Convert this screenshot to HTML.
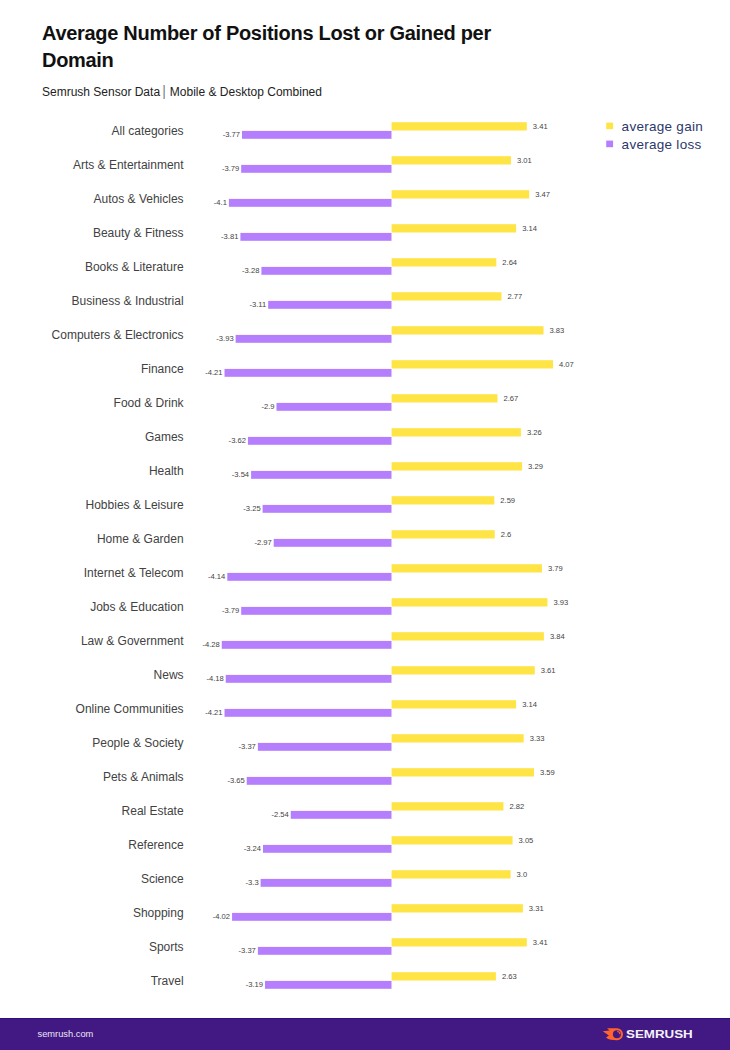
<!DOCTYPE html>
<html><head><meta charset="utf-8">
<style>
html,body{margin:0;padding:0;background:#fff;}
body{width:730px;height:1050px;position:relative;overflow:hidden;font-family:"Liberation Sans",sans-serif;}
.t{position:absolute;left:42px;top:19.5px;font-weight:bold;font-size:20px;letter-spacing:-0.3px;line-height:27.8px;color:#111;margin:0;width:520px;}
.sub{position:absolute;left:42px;top:83.8px;font-size:12px;line-height:16px;color:#222;white-space:nowrap;}
svg{position:absolute;left:0;top:0;}
.lab{font-family:"Liberation Sans",sans-serif;font-size:12px;fill:#424242;text-anchor:end;}
.val{font-family:"Liberation Sans",sans-serif;font-size:7.6px;fill:#444;}
.leg{font-family:"Liberation Sans",sans-serif;font-size:13.5px;letter-spacing:0.28px;fill:#2c386c;}
.foot{position:absolute;left:0;top:1017.6px;width:730px;height:32.4px;background:#421983;box-shadow:inset 0 1px 0 #2d0e7e;}
.furl{position:absolute;left:37.5px;top:1028.1px;font-size:9.3px;line-height:12px;color:#ebe6f7;}
.brand{position:absolute;left:625.8px;top:1027.2px;font-size:10.6px;line-height:14px;font-weight:bold;color:#f4f2fa;transform-origin:0 0;transform:scaleX(1.26);}
</style></head><body>
<div class="t">Average Number of Positions Lost or Gained per<br>Domain</div>
<div class="sub">Semrush Sensor Data <span style="display:inline-block;color:#6a6a6a;transform:translate(-0.8px,-0.8px) scaleY(1.18);">|</span> Mobile &amp; Desktop Combined</div>
<svg width="730" height="1050" viewBox="0 0 730 1050">
<text x="183.6" y="135.20" class="lab">All categories</text>
<rect x="391.6" y="122.20" width="135.24" height="8.3" fill="#FFE446"/>
<rect x="241.98" y="130.90" width="149.52" height="7.9" fill="#B57EFD"/>
<text x="532.84" y="126.35" class="val" dominant-baseline="central">3.41</text>
<text x="239.98" y="134.85" class="val" text-anchor="end" dominant-baseline="central">-3.77</text>
<text x="183.6" y="169.20" class="lab">Arts &amp; Entertainment</text>
<rect x="391.6" y="156.20" width="119.38" height="8.3" fill="#FFE446"/>
<rect x="241.19" y="164.90" width="150.31" height="7.9" fill="#B57EFD"/>
<text x="516.98" y="160.35" class="val" dominant-baseline="central">3.01</text>
<text x="239.19" y="168.85" class="val" text-anchor="end" dominant-baseline="central">-3.79</text>
<text x="183.6" y="203.20" class="lab">Autos &amp; Vehicles</text>
<rect x="391.6" y="190.20" width="137.62" height="8.3" fill="#FFE446"/>
<rect x="228.89" y="198.90" width="162.61" height="7.9" fill="#B57EFD"/>
<text x="535.22" y="194.35" class="val" dominant-baseline="central">3.47</text>
<text x="226.89" y="202.85" class="val" text-anchor="end" dominant-baseline="central">-4.1</text>
<text x="183.6" y="237.20" class="lab">Beauty &amp; Fitness</text>
<rect x="391.6" y="224.20" width="124.53" height="8.3" fill="#FFE446"/>
<rect x="240.40" y="232.90" width="151.10" height="7.9" fill="#B57EFD"/>
<text x="522.13" y="228.35" class="val" dominant-baseline="central">3.14</text>
<text x="238.40" y="236.85" class="val" text-anchor="end" dominant-baseline="central">-3.81</text>
<text x="183.6" y="271.20" class="lab">Books &amp; Literature</text>
<rect x="391.6" y="258.20" width="104.70" height="8.3" fill="#FFE446"/>
<rect x="261.42" y="266.90" width="130.08" height="7.9" fill="#B57EFD"/>
<text x="502.30" y="262.35" class="val" dominant-baseline="central">2.64</text>
<text x="259.42" y="270.85" class="val" text-anchor="end" dominant-baseline="central">-3.28</text>
<text x="183.6" y="305.20" class="lab">Business &amp; Industrial</text>
<rect x="391.6" y="292.20" width="109.86" height="8.3" fill="#FFE446"/>
<rect x="268.16" y="300.90" width="123.34" height="7.9" fill="#B57EFD"/>
<text x="507.46" y="296.35" class="val" dominant-baseline="central">2.77</text>
<text x="266.16" y="304.85" class="val" text-anchor="end" dominant-baseline="central">-3.11</text>
<text x="183.6" y="339.20" class="lab">Computers &amp; Electronics</text>
<rect x="391.6" y="326.20" width="151.90" height="8.3" fill="#FFE446"/>
<rect x="235.64" y="334.90" width="155.86" height="7.9" fill="#B57EFD"/>
<text x="549.50" y="330.35" class="val" dominant-baseline="central">3.83</text>
<text x="233.64" y="338.85" class="val" text-anchor="end" dominant-baseline="central">-3.93</text>
<text x="183.6" y="373.20" class="lab">Finance</text>
<rect x="391.6" y="360.20" width="161.42" height="8.3" fill="#FFE446"/>
<rect x="224.53" y="368.90" width="166.97" height="7.9" fill="#B57EFD"/>
<text x="559.02" y="364.35" class="val" dominant-baseline="central">4.07</text>
<text x="222.53" y="372.85" class="val" text-anchor="end" dominant-baseline="central">-4.21</text>
<text x="183.6" y="407.20" class="lab">Food &amp; Drink</text>
<rect x="391.6" y="394.20" width="105.89" height="8.3" fill="#FFE446"/>
<rect x="276.49" y="402.90" width="115.01" height="7.9" fill="#B57EFD"/>
<text x="503.49" y="398.35" class="val" dominant-baseline="central">2.67</text>
<text x="274.49" y="406.85" class="val" text-anchor="end" dominant-baseline="central">-2.9</text>
<text x="183.6" y="441.20" class="lab">Games</text>
<rect x="391.6" y="428.20" width="129.29" height="8.3" fill="#FFE446"/>
<rect x="247.93" y="436.90" width="143.57" height="7.9" fill="#B57EFD"/>
<text x="526.89" y="432.35" class="val" dominant-baseline="central">3.26</text>
<text x="245.93" y="440.85" class="val" text-anchor="end" dominant-baseline="central">-3.62</text>
<text x="183.6" y="475.20" class="lab">Health</text>
<rect x="391.6" y="462.20" width="130.48" height="8.3" fill="#FFE446"/>
<rect x="251.10" y="470.90" width="140.40" height="7.9" fill="#B57EFD"/>
<text x="528.08" y="466.35" class="val" dominant-baseline="central">3.29</text>
<text x="249.10" y="474.85" class="val" text-anchor="end" dominant-baseline="central">-3.54</text>
<text x="183.6" y="509.20" class="lab">Hobbies &amp; Leisure</text>
<rect x="391.6" y="496.20" width="102.72" height="8.3" fill="#FFE446"/>
<rect x="262.61" y="504.90" width="128.89" height="7.9" fill="#B57EFD"/>
<text x="500.32" y="500.35" class="val" dominant-baseline="central">2.59</text>
<text x="260.61" y="508.85" class="val" text-anchor="end" dominant-baseline="central">-3.25</text>
<text x="183.6" y="543.20" class="lab">Home &amp; Garden</text>
<rect x="391.6" y="530.20" width="103.12" height="8.3" fill="#FFE446"/>
<rect x="273.71" y="538.90" width="117.79" height="7.9" fill="#B57EFD"/>
<text x="500.72" y="534.35" class="val" dominant-baseline="central">2.6</text>
<text x="271.71" y="542.85" class="val" text-anchor="end" dominant-baseline="central">-2.97</text>
<text x="183.6" y="577.20" class="lab">Internet &amp; Telecom</text>
<rect x="391.6" y="564.20" width="150.31" height="8.3" fill="#FFE446"/>
<rect x="227.31" y="572.90" width="164.19" height="7.9" fill="#B57EFD"/>
<text x="547.91" y="568.35" class="val" dominant-baseline="central">3.79</text>
<text x="225.31" y="576.85" class="val" text-anchor="end" dominant-baseline="central">-4.14</text>
<text x="183.6" y="611.20" class="lab">Jobs &amp; Education</text>
<rect x="391.6" y="598.20" width="155.86" height="8.3" fill="#FFE446"/>
<rect x="241.19" y="606.90" width="150.31" height="7.9" fill="#B57EFD"/>
<text x="553.46" y="602.35" class="val" dominant-baseline="central">3.93</text>
<text x="239.19" y="610.85" class="val" text-anchor="end" dominant-baseline="central">-3.79</text>
<text x="183.6" y="645.20" class="lab">Law &amp; Government</text>
<rect x="391.6" y="632.20" width="152.29" height="8.3" fill="#FFE446"/>
<rect x="221.76" y="640.90" width="169.74" height="7.9" fill="#B57EFD"/>
<text x="549.89" y="636.35" class="val" dominant-baseline="central">3.84</text>
<text x="219.76" y="644.85" class="val" text-anchor="end" dominant-baseline="central">-4.28</text>
<text x="183.6" y="679.20" class="lab">News</text>
<rect x="391.6" y="666.20" width="143.17" height="8.3" fill="#FFE446"/>
<rect x="225.72" y="674.90" width="165.78" height="7.9" fill="#B57EFD"/>
<text x="540.77" y="670.35" class="val" dominant-baseline="central">3.61</text>
<text x="223.72" y="678.85" class="val" text-anchor="end" dominant-baseline="central">-4.18</text>
<text x="183.6" y="713.20" class="lab">Online Communities</text>
<rect x="391.6" y="700.20" width="124.53" height="8.3" fill="#FFE446"/>
<rect x="224.53" y="708.90" width="166.97" height="7.9" fill="#B57EFD"/>
<text x="522.13" y="704.35" class="val" dominant-baseline="central">3.14</text>
<text x="222.53" y="712.85" class="val" text-anchor="end" dominant-baseline="central">-4.21</text>
<text x="183.6" y="747.20" class="lab">People &amp; Society</text>
<rect x="391.6" y="734.20" width="132.07" height="8.3" fill="#FFE446"/>
<rect x="257.85" y="742.90" width="133.65" height="7.9" fill="#B57EFD"/>
<text x="529.67" y="738.35" class="val" dominant-baseline="central">3.33</text>
<text x="255.85" y="746.85" class="val" text-anchor="end" dominant-baseline="central">-3.37</text>
<text x="183.6" y="781.20" class="lab">Pets &amp; Animals</text>
<rect x="391.6" y="768.20" width="142.38" height="8.3" fill="#FFE446"/>
<rect x="246.74" y="776.90" width="144.76" height="7.9" fill="#B57EFD"/>
<text x="539.98" y="772.35" class="val" dominant-baseline="central">3.59</text>
<text x="244.74" y="780.85" class="val" text-anchor="end" dominant-baseline="central">-3.65</text>
<text x="183.6" y="815.20" class="lab">Real Estate</text>
<rect x="391.6" y="802.20" width="111.84" height="8.3" fill="#FFE446"/>
<rect x="290.76" y="810.90" width="100.74" height="7.9" fill="#B57EFD"/>
<text x="509.44" y="806.35" class="val" dominant-baseline="central">2.82</text>
<text x="288.76" y="814.85" class="val" text-anchor="end" dominant-baseline="central">-2.54</text>
<text x="183.6" y="849.20" class="lab">Reference</text>
<rect x="391.6" y="836.20" width="120.96" height="8.3" fill="#FFE446"/>
<rect x="263.00" y="844.90" width="128.50" height="7.9" fill="#B57EFD"/>
<text x="518.56" y="840.35" class="val" dominant-baseline="central">3.05</text>
<text x="261.00" y="848.85" class="val" text-anchor="end" dominant-baseline="central">-3.24</text>
<text x="183.6" y="883.20" class="lab">Science</text>
<rect x="391.6" y="870.20" width="118.98" height="8.3" fill="#FFE446"/>
<rect x="260.62" y="878.90" width="130.88" height="7.9" fill="#B57EFD"/>
<text x="516.58" y="874.35" class="val" dominant-baseline="central">3.0</text>
<text x="258.62" y="882.85" class="val" text-anchor="end" dominant-baseline="central">-3.3</text>
<text x="183.6" y="917.20" class="lab">Shopping</text>
<rect x="391.6" y="904.20" width="131.27" height="8.3" fill="#FFE446"/>
<rect x="232.07" y="912.90" width="159.43" height="7.9" fill="#B57EFD"/>
<text x="528.87" y="908.35" class="val" dominant-baseline="central">3.31</text>
<text x="230.07" y="916.85" class="val" text-anchor="end" dominant-baseline="central">-4.02</text>
<text x="183.6" y="951.20" class="lab">Sports</text>
<rect x="391.6" y="938.20" width="135.24" height="8.3" fill="#FFE446"/>
<rect x="257.85" y="946.90" width="133.65" height="7.9" fill="#B57EFD"/>
<text x="532.84" y="942.35" class="val" dominant-baseline="central">3.41</text>
<text x="255.85" y="950.85" class="val" text-anchor="end" dominant-baseline="central">-3.37</text>
<text x="183.6" y="985.20" class="lab">Travel</text>
<rect x="391.6" y="972.20" width="104.31" height="8.3" fill="#FFE446"/>
<rect x="264.98" y="980.90" width="126.52" height="7.9" fill="#B57EFD"/>
<text x="501.91" y="976.35" class="val" dominant-baseline="central">2.63</text>
<text x="262.98" y="984.85" class="val" text-anchor="end" dominant-baseline="central">-3.19</text>
<rect x="606.2" y="122.6" width="6.9" height="6.6" fill="#FFE446"/>
<rect x="606.2" y="140.6" width="6.9" height="6.6" fill="#B57EFD"/>
<text x="621.6" y="130.6" class="leg">average gain</text>
<text x="621.6" y="148.6" class="leg">average loss</text>
</svg>
<div class="foot"></div>
<div class="furl">semrush.com</div>
<svg width="730" height="1050" viewBox="0 0 730 1050" style="pointer-events:none">
<path fill="#FF642D" d="M607.1 1028.3 L617 1028.3 A6 6 0 1 1 617 1040.3 L611 1039.8 Q607.8 1039.2 606 1037.4 L608.9 1035.6 L602.8 1031.3 L609.6 1030.6 Z"/>
<circle cx="616.9" cy="1034.2" r="4" fill="#421983"/>
<path d="M617.2 1031.5 A2.8 2.8 0 0 1 619.9 1034.3" stroke="#FF642D" stroke-width="1.1" fill="none"/>
</svg>
<div class="brand">SEMRUSH</div>
</body></html>
